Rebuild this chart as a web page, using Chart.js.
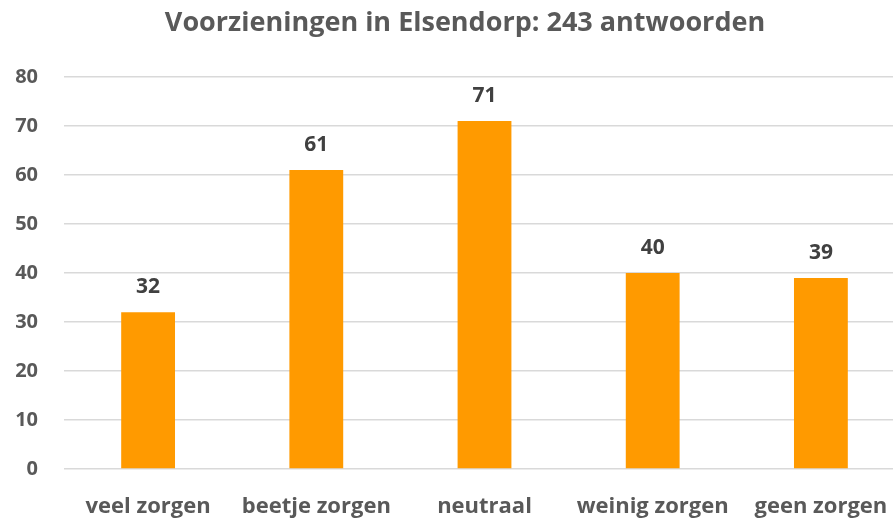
<!DOCTYPE html>
<html>
<head>
<meta charset="utf-8">
<script src="https://cdn.jsdelivr.net/npm/chart.js@4/dist/chart.umd.min.js"></script>
<style>
html,body{margin:0;padding:0;background:#fff;overflow:hidden;width:893px;height:520px;}
#wrap{width:930px;height:520px;}
</style>
</head>
<body>
<div id="wrap"><canvas id="c" width="930" height="520"></canvas></div>
<script>
const categories = ['veel zorgen', 'beetje zorgen', 'neutraal', 'weinig zorgen', 'geen zorgen'];
const values = [32, 61, 71, 40, 39];
const yTicks = [0, 10, 20, 30, 40, 50, 60, 70, 80];
const titleText = 'Voorzieningen in Elsendorp: 243 antwoorden';

const FONT = '"Open Sans", Lato, sans-serif';

const valueLabels = {
  id: 'valueLabels',
  afterDatasetsDraw(chart) {
    const ctx = chart.ctx;
    const meta = chart.getDatasetMeta(0);
    ctx.save();
    ctx.font = 'bold 21px ' + FONT;
    ctx.fillStyle = '#404040';
    ctx.textAlign = 'center';
    ctx.textBaseline = 'middle';
    meta.data.forEach((bar, i) => {
      ctx.fillText(String(values[i]), bar.x, bar.y - 25);
    });
    ctx.restore();
  }
};

const centeredTitle = {
  id: 'centeredTitle',
  afterDraw(chart) {
    const ctx = chart.ctx;
    ctx.save();
    ctx.font = 'bold 27px ' + FONT;
    ctx.fillStyle = '#595959';
    ctx.textAlign = 'center';
    ctx.textBaseline = 'middle';
    ctx.fillText(titleText, chart.width / 2, 23);
    ctx.restore();
  }
};

new Chart(document.getElementById('c'), {
  type: 'bar',
  data: {
    labels: categories,
    datasets: [{
      data: values,
      backgroundColor: '#FF9A00',
      barPercentage: 0.32,
      categoryPercentage: 1.0
    }]
  },
  options: {
    responsive: false,
    animation: false,
    layout: { padding: { left: 0, right: 25, top: 77, bottom: 0 } },
    plugins: {
      legend: { display: false },
      tooltip: { enabled: false },
      title: { display: false }
    },
    scales: {
      x: {
        afterFit(scale) { scale.height = 51; },
        grid: { display: false, drawTicks: false },
        border: { display: false },
        ticks: {
          color: '#595959',
          font: { family: FONT, size: 22, weight: 'bold' },
          padding: 25,
          maxRotation: 0,
          autoSkip: false
        }
      },
      y: {
        min: 0,
        max: 80,
        afterFit(scale) { scale.width = 64; },
        afterBuildTicks(scale) { scale.ticks = yTicks.map(v => ({ value: v })); },
        grid: { color: '#d9d9d9', lineWidth: 1.5, drawTicks: false },
        border: { display: false },
        ticks: {
          color: '#595959',
          font: { family: FONT, size: 20, weight: 'bold' },
          padding: 26
        }
      }
    }
  },
  plugins: [valueLabels, centeredTitle]
});
</script>
</body>
</html>
